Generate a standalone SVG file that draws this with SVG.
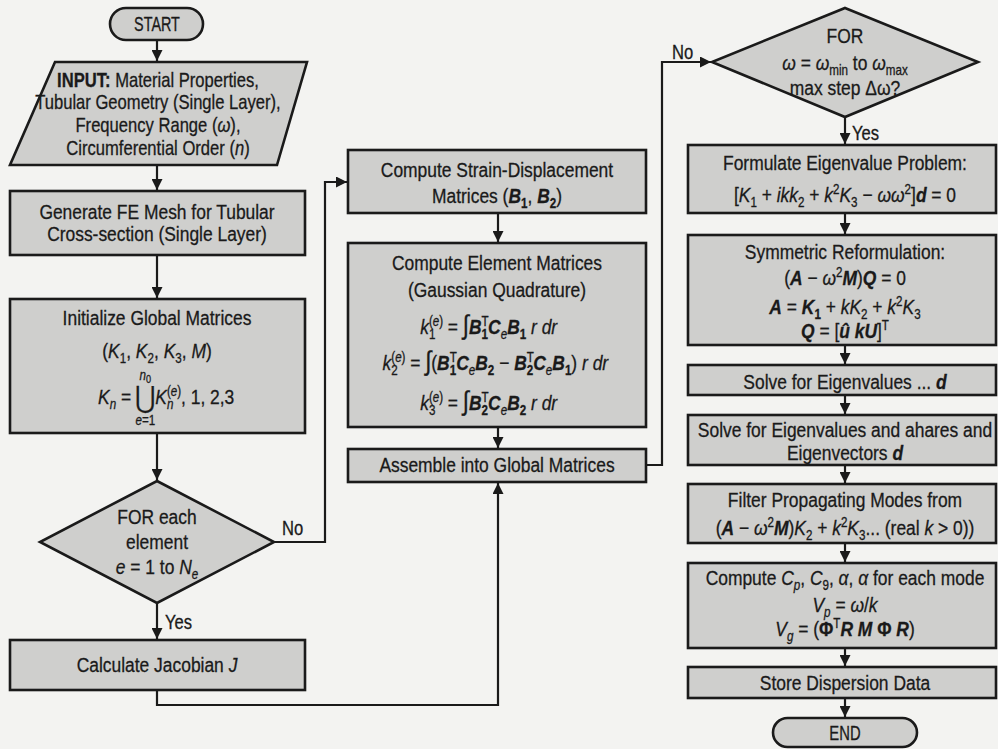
<svg xmlns="http://www.w3.org/2000/svg" width="998" height="749" viewBox="0 0 998 749">
<defs>
<style>
text{font-family:"Liberation Sans",Arial,sans-serif;font-size:21px;fill:#1a1a1a;stroke:#1a1a1a;stroke-width:0.3px;text-anchor:middle}
.shape{fill:#cfcfcd;stroke:#1a1a1a;stroke-width:2.6}
.conn{fill:none;stroke:#1a1a1a;stroke-width:2.2}
.lbl{font-size:20px;text-anchor:start}
.st{text-anchor:start}
.i{font-style:italic}
.b{font-weight:bold}
.bi{font-weight:bold;font-style:italic}
.sub{font-size:14px;baseline-shift:-5px}
.sup{font-size:14px;baseline-shift:8px}
.big{font-size:27px}
</style>
<marker id="ah" markerUnits="userSpaceOnUse" markerWidth="12" markerHeight="11" refX="11" refY="5.5" orient="auto">
<path d="M0,0 L11,5.5 L0,11 Z" fill="#1a1a1a"/>
</marker>
</defs>
<rect x="0" y="0" width="998" height="749" fill="#f3f3f1"/>

<g id="connectors">
<path class="conn" marker-end="url(#ah)" d="M157,40 V61"/>
<path class="conn" marker-end="url(#ah)" d="M157,165 V190"/>
<path class="conn" marker-end="url(#ah)" d="M157,255 V298"/>
<path class="conn" marker-end="url(#ah)" d="M157,433 V480"/>
<path class="conn" marker-end="url(#ah)" d="M275,542 H325 V182 H347"/>
<path class="conn" marker-end="url(#ah)" d="M157,603 V639"/>
<path class="conn" marker-end="url(#ah)" d="M157,690 V705 H498 V483"/>
<path class="conn" marker-end="url(#ah)" d="M498,213 V242"/>
<path class="conn" marker-end="url(#ah)" d="M498,427 V448"/>
<path class="conn" marker-end="url(#ah)" d="M646,465 H662 V62 H711"/>
<path class="conn" marker-end="url(#ah)" d="M845,117 V144"/>
<path class="conn" marker-end="url(#ah)" d="M845,213 V234"/>
<path class="conn" marker-end="url(#ah)" d="M845,345 V364"/>
<path class="conn" marker-end="url(#ah)" d="M845,395 V414"/>
<path class="conn" marker-end="url(#ah)" d="M845,465 V483"/>
<path class="conn" marker-end="url(#ah)" d="M845,543 V562"/>
<path class="conn" marker-end="url(#ah)" d="M845,648 V666"/>
<path class="conn" marker-end="url(#ah)" d="M845,698 V717"/>
<text class="lbl" x="282" y="535" transform="matrix(0.83,0,0,1,47.94,0)">No</text>
<text class="lbl" x="165" y="629" transform="matrix(0.83,0,0,1,28.05,0)">Yes</text>
<text class="lbl" x="672" y="59" transform="matrix(0.83,0,0,1,114.24,0)">No</text>
<text class="lbl" x="852" y="140" transform="matrix(0.83,0,0,1,144.84,0)">Yes</text>
</g>

<g id="start">
<rect class="shape" x="110" y="8" width="93" height="32" rx="16"/>
<text x="157" y="31" style="font-size:20px" transform="matrix(0.72,0,0,1,43.96,0)">START</text>
</g>

<g id="input">
<polygon class="shape" points="55,62 307,62 277,165 10,165"/>
<g transform="matrix(0.83,0,0,1,26.86,0)">
<text x="158" y="87" style="font-size:20px"><tspan class="b">INPUT:</tspan> Material Properties,</text>
<text x="158" y="109" style="font-size:20px">Tubular Geometry (Single Layer),</text>
<text x="158" y="132" style="font-size:20px">Frequency Range (<tspan class="i">ω</tspan>),</text>
<text x="158" y="155" style="font-size:20px">Circumferential Order (<tspan class="i">n</tspan>)</text>
</g>
</g>

<g id="mesh">
<rect class="shape" x="10" y="191" width="295" height="64"/>
<g transform="matrix(0.83,0,0,1,26.69,0)">
<text x="157" y="219">Generate FE Mesh for Tubular</text>
<text x="157" y="241">Cross-section (Single Layer)</text>
</g>
</g>

<g id="init">
<rect class="shape" x="10" y="299" width="295" height="134"/>
<g transform="matrix(0.83,0,0,1,26.69,0)">
<text x="157" y="325">Initialize Global Matrices</text>
<text x="157" y="358">(<tspan class="i">K</tspan><tspan class="sub">1</tspan>, <tspan class="i">K</tspan><tspan class="sub">2</tspan>, <tspan class="i">K</tspan><tspan class="sub">3</tspan>, <tspan class="i">M</tspan>)</text>
<text x="86" y="404" class="st"><tspan class="i">K</tspan><tspan class="sub i">n</tspan> =</text>
<text x="142.5" y="408" style="font-size:30px">⋃</text>
<text x="143" y="380" style="font-size:14px" class="i">n<tspan style="font-size:11px;baseline-shift:-3px;font-style:normal">0</tspan></text>
<text x="143" y="425" style="font-size:14px"><tspan class="i">e</tspan>=1</text>
<text x="155" y="404" class="st"><tspan class="i">K</tspan><tspan class="sup">(<tspan class="i">e</tspan>)</tspan><tspan class="sub i" dx="-17">n</tspan><tspan dx="9">, 1, 2,3</tspan></text>
</g>
</g>

<g id="loop-element">
<polygon class="shape" points="157,481 274,542 157,603 40,542"/>
<g transform="matrix(0.83,0,0,1,26.69,0)">
<text x="157" y="524">FOR each</text>
<text x="157" y="549">element</text>
<text x="157" y="574"><tspan class="i">e</tspan> = 1 to <tspan class="i">N</tspan><tspan class="sub i">e</tspan></text>
</g>
</g>

<g id="jacobian">
<rect class="shape" x="10" y="640" width="295" height="50"/>
<g transform="matrix(0.83,0,0,1,26.69,0)">
<text x="157" y="672">Calculate Jacobian <tspan class="i">J</tspan></text>
</g>
</g>

<g id="strain">
<rect class="shape" x="348" y="150" width="298" height="63"/>
<g transform="matrix(0.83,0,0,1,84.49,0)">
<text x="497" y="177">Compute Strain-Displacement</text>
<text x="497" y="203">Matrices (<tspan class="bi">B</tspan><tspan class="sub b">1</tspan>, <tspan class="bi">B</tspan><tspan class="sub b">2</tspan>)</text>
</g>
</g>

<g id="element">
<rect class="shape" x="348" y="243" width="298" height="184"/>
<g transform="matrix(0.83,0,0,1,84.49,0)">
<text x="497" y="270">Compute Element Matrices</text>
<text x="497" y="297">(Gaussian Quadrature)</text>
<text x="487" y="334"><tspan class="i">k</tspan><tspan class="sup">(<tspan class="i">e</tspan>)</tspan><tspan class="sub" dx="-17">1</tspan><tspan dx="9"> = </tspan><tspan class="big">∫</tspan><tspan class="bi">B</tspan><tspan class="sup">T</tspan><tspan class="sub b" dx="-8.5">1</tspan><tspan class="bi">C</tspan><tspan class="sub i">e</tspan><tspan class="bi">B</tspan><tspan class="sub b">1</tspan><tspan class="i"> r dr</tspan></text>
<text x="495" y="370"><tspan class="i">k</tspan><tspan class="sup">(<tspan class="i">e</tspan>)</tspan><tspan class="sub" dx="-17">2</tspan><tspan dx="9"> = </tspan><tspan class="big">∫</tspan>(<tspan class="bi">B</tspan><tspan class="sup">T</tspan><tspan class="sub b" dx="-8.5">1</tspan><tspan class="bi">C</tspan><tspan class="sub i">e</tspan><tspan class="bi">B</tspan><tspan class="sub b">2</tspan> − <tspan class="bi">B</tspan><tspan class="sup">T</tspan><tspan class="sub b" dx="-8.5">2</tspan><tspan class="bi">C</tspan><tspan class="sub i">e</tspan><tspan class="bi">B</tspan><tspan class="sub b">1</tspan>)<tspan class="i"> r dr</tspan></text>
<text x="487" y="410"><tspan class="i">k</tspan><tspan class="sup">(<tspan class="i">e</tspan>)</tspan><tspan class="sub" dx="-17">3</tspan><tspan dx="9"> = </tspan><tspan class="big">∫</tspan><tspan class="bi">B</tspan><tspan class="sup">T</tspan><tspan class="sub b" dx="-8.5">2</tspan><tspan class="bi">C</tspan><tspan class="sub i">e</tspan><tspan class="bi">B</tspan><tspan class="sub b">2</tspan><tspan class="i"> r dr</tspan></text>
</g>
</g>

<g id="assemble">
<rect class="shape" x="348" y="449" width="298" height="33"/>
<g transform="matrix(0.83,0,0,1,84.49,0)">
<text x="497" y="472">Assemble into Global Matrices</text>
</g>
</g>

<g id="loop-frequency">
<polygon class="shape" points="845,8 978,62 845,117 712,62"/>
<g transform="matrix(0.83,0,0,1,143.65,0)">
<text x="845" y="43">FOR</text>
<text x="845" y="70"><tspan class="i">ω</tspan> = <tspan class="i">ω</tspan><tspan class="sub">min</tspan> to <tspan class="i">ω</tspan><tspan class="sub">max</tspan></text>
<text x="845" y="95">max step Δω?</text>
</g>
</g>

<g id="formulate">
<rect class="shape" x="688" y="145" width="308" height="68"/>
<g transform="matrix(0.83,0,0,1,143.65,0)">
<text x="845" y="170">Formulate Eigenvalue Problem:</text>
<text x="845" y="202">[<tspan class="i">K</tspan><tspan class="sub">1</tspan> + <tspan class="i">ikk</tspan><tspan class="sub">2</tspan> + <tspan class="i">k</tspan><tspan class="sup">2</tspan><tspan class="i">K</tspan><tspan class="sub">3</tspan> − <tspan class="i">ωω</tspan><tspan class="sup">2</tspan>]<tspan class="bi">d</tspan> = 0</text>
</g>
</g>

<g id="symmetric">
<rect class="shape" x="688" y="235" width="308" height="110"/>
<g transform="matrix(0.83,0,0,1,143.65,0)">
<text x="845" y="259">Symmetric Reformulation:</text>
<text x="845" y="285">(<tspan class="bi">A</tspan> − <tspan class="i">ω</tspan><tspan class="sup">2</tspan><tspan class="bi">M</tspan>)<tspan class="bi">Q</tspan> = 0</text>
<text x="845" y="314"><tspan class="bi">A</tspan> = <tspan class="bi">K</tspan><tspan class="sub b">1</tspan> + <tspan class="i">kK</tspan><tspan class="sub">2</tspan> + <tspan class="i">k</tspan><tspan class="sup">2</tspan><tspan class="i">K</tspan><tspan class="sub">3</tspan></text>
<text x="845" y="338"><tspan class="bi">Q</tspan> = [<tspan class="bi">û  kU</tspan>]<tspan class="sup">T</tspan></text>
</g>
</g>

<g id="solve1">
<rect class="shape" x="688" y="365" width="308" height="30"/>
<g transform="matrix(0.83,0,0,1,143.65,0)">
<text x="845" y="389">Solve for Eigenvalues ... <tspan class="bi">d</tspan></text>
</g>
</g>

<g id="solve2">
<rect class="shape" x="688" y="415" width="308" height="50"/>
<g transform="matrix(0.83,0,0,1,143.65,0)">
<text x="845" y="437">Solve for Eigenvalues and ahares and</text>
<text x="845" y="460">Eigenvectors <tspan class="bi">d</tspan></text>
</g>
</g>

<g id="filter">
<rect class="shape" x="688" y="484" width="308" height="59"/>
<g transform="matrix(0.83,0,0,1,143.65,0)">
<text x="845" y="507">Filter Propagating Modes from</text>
<text x="845" y="535">(<tspan class="bi">A</tspan> − <tspan class="i">ω</tspan><tspan class="sup">2</tspan><tspan class="bi">M</tspan>)<tspan class="i">K</tspan><tspan class="sub">2</tspan> + <tspan class="i">k</tspan><tspan class="sup">2</tspan><tspan class="i">K</tspan><tspan class="sub">3</tspan>... (real <tspan class="i">k</tspan> &gt; 0))</text>
</g>
</g>

<g id="velocities">
<rect class="shape" x="688" y="563" width="308" height="85"/>
<g transform="matrix(0.83,0,0,1,143.65,0)">
<text x="845" y="585">Compute <tspan class="i">C</tspan><tspan class="sub i">p</tspan>, <tspan class="i">C</tspan><tspan class="sub">9</tspan>, <tspan class="i">α</tspan>, <tspan class="i">α</tspan> for each mode</text>
<text x="845" y="612"><tspan class="i">V</tspan><tspan class="sub i">p</tspan> = <tspan class="i">ω</tspan>/<tspan class="i">k</tspan></text>
<text x="845" y="636"><tspan class="i">V</tspan><tspan class="sub i">g</tspan> = (<tspan class="b">Φ</tspan><tspan class="sup">T</tspan><tspan class="bi">R M </tspan><tspan class="b">Φ</tspan><tspan class="bi"> R</tspan>)</text>
</g>
</g>

<g id="store">
<rect class="shape" x="688" y="667" width="308" height="31"/>
<g transform="matrix(0.83,0,0,1,143.65,0)">
<text x="845" y="690">Store Dispersion Data</text>
</g>
</g>

<g id="end">
<rect class="shape" x="773" y="718" width="144" height="29" rx="14.5"/>
<text x="845" y="740" style="font-size:20px" transform="matrix(0.74,0,0,1,219.7,0)">END</text>
</g>
</svg>
